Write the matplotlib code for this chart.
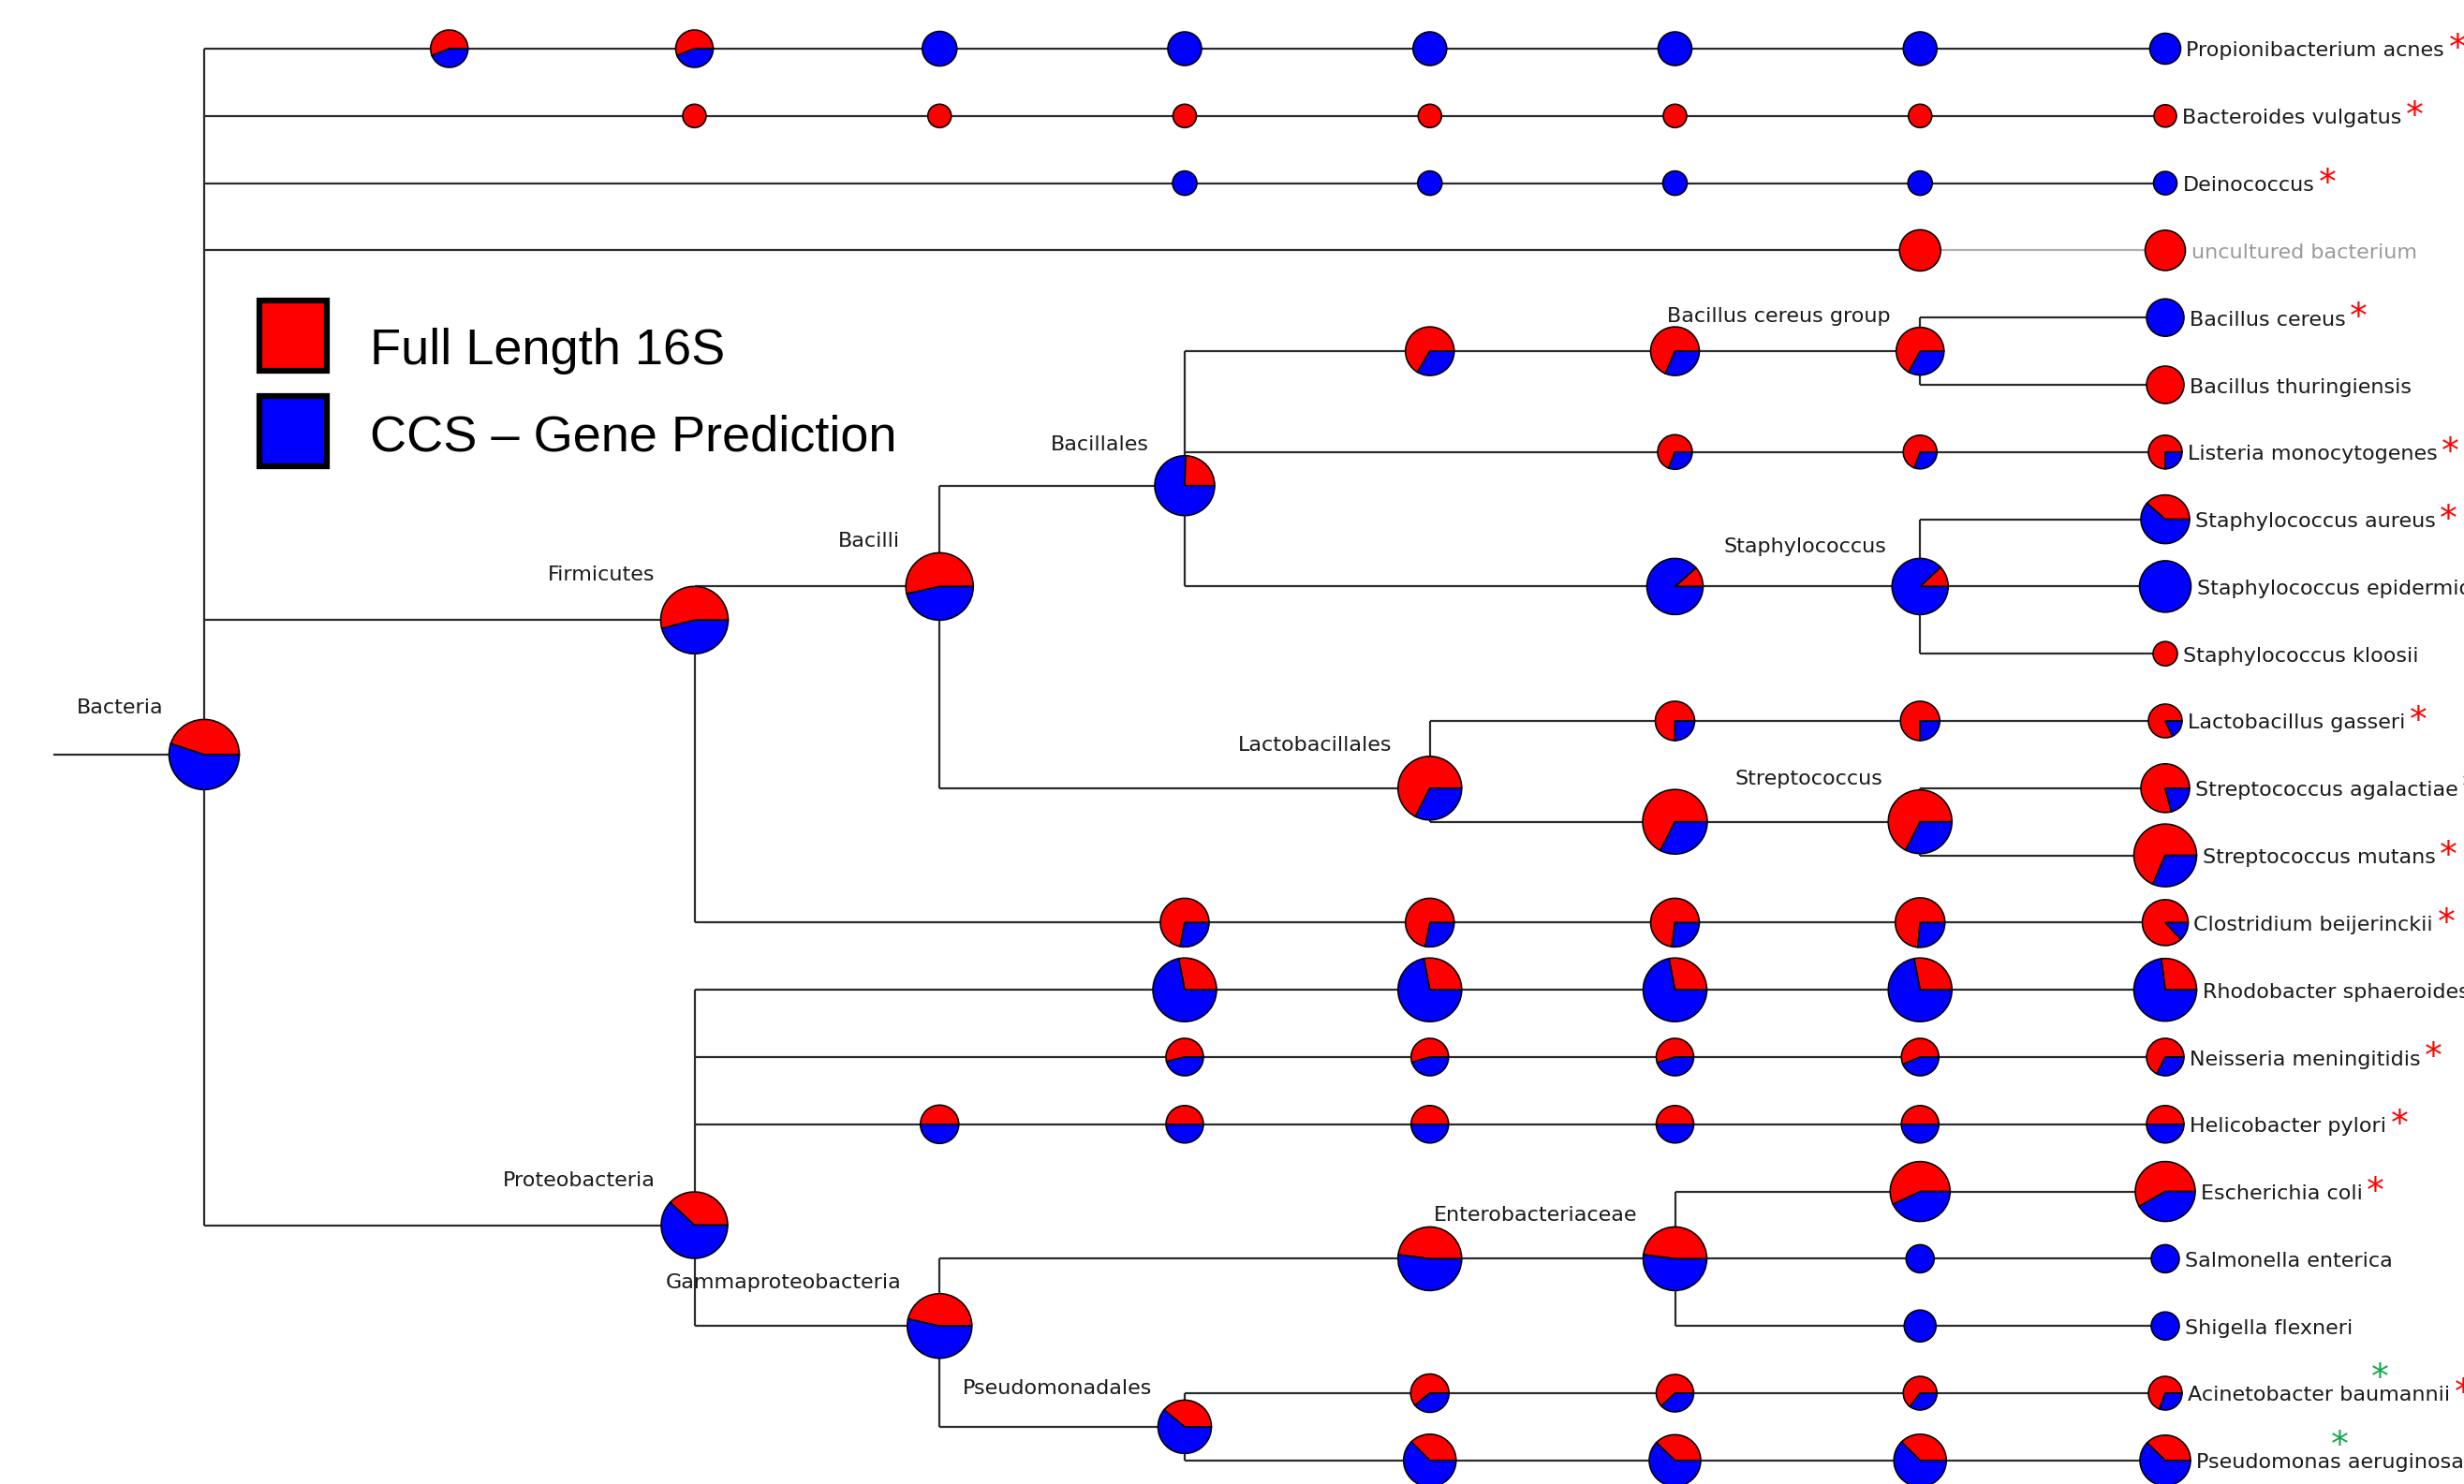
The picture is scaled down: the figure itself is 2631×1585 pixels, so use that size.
import matplotlib
matplotlib.use("Agg")
import matplotlib.pyplot as plt
from matplotlib.patches import Wedge, Circle, Rectangle

# ---------------- data ----------------
# internal taxa: name, parent, rank column, pies along the branch (rank, abundance, red fraction)
node_names = ["Bacteria", "Firmicutes", "Proteobacteria", "Bacilli", "Bacillales",
              "Bacillus cereus group", "Staphylococcus", "Lactobacillales", "Streptococcus",
              "Gammaproteobacteria", "Enterobacteriaceae", "Pseudomonadales"]
node_parent = [None, "Bacteria", "Bacteria", "Firmicutes", "Bacilli", "Bacillales", "Bacillales",
               "Bacilli", "Lactobacillales", "Proteobacteria", "Gammaproteobacteria",
               "Gammaproteobacteria"]
node_rank = [0, 2, 2, 3, 4, 7, 7, 5, 7, 3, 6, 4]
node_pie_ranks = [[0], [2], [2], [3], [4], [5, 6, 7], [6, 7], [5], [6, 7], [3], [5, 6], [4]]
node_pie_size = [[37.5], [36], [35.5], [36], [32], [26, 26, 25.5], [30, 30], [34],
                 [34.5, 34], [34.5], [34, 34], [28.5]]
node_pie_red = [[0.45], [0.54], [0.38], [0.535], [0.245], [0.665, 0.685, 0.67], [0.115, 0.12],
                [0.675], [0.675, 0.675], [0.465], [0.48, 0.48], [0.39]]

# leaves (species), top to bottom
leaf_names = ["Propionibacterium acnes", "Bacteroides vulgatus", "Deinococcus",
              "uncultured bacterium", "Bacillus cereus", "Bacillus thuringiensis",
              "Listeria monocytogenes", "Staphylococcus aureus", "Staphylococcus epidermidis",
              "Staphylococcus kloosii", "Lactobacillus gasseri", "Streptococcus agalactiae",
              "Streptococcus mutans", "Clostridium beijerinckii", "Rhodobacter sphaeroides",
              "Neisseria meningitidis", "Helicobacter pylori", "Escherichia coli",
              "Salmonella enterica", "Shigella flexneri", "Acinetobacter baumannii",
              "Pseudomonas aeruginosa"]
leaf_parent = ["Bacteria", "Bacteria", "Bacteria", "Bacteria", "Bacillus cereus group",
               "Bacillus cereus group", "Bacillales", "Staphylococcus", "Staphylococcus",
               "Staphylococcus", "Lactobacillales", "Streptococcus", "Streptococcus",
               "Firmicutes", "Proteobacteria", "Proteobacteria", "Proteobacteria",
               "Enterobacteriaceae", "Enterobacteriaceae", "Enterobacteriaceae",
               "Pseudomonadales", "Pseudomonadales"]
leaf_pie_ranks = [[1, 2, 3, 4, 5, 6, 7, 8], [2, 3, 4, 5, 6, 7, 8], [4, 5, 6, 7, 8], [7, 8],
                  [8], [8], [6, 7, 8], [8], [8], [8], [6, 7, 8], [8], [8],
                  [4, 5, 6, 7, 8], [4, 5, 6, 7, 8], [4, 5, 6, 7, 8], [3, 4, 5, 6, 7, 8],
                  [7, 8], [7, 8], [7, 8], [5, 6, 7, 8], [5, 6, 7, 8]]
leaf_pie_size = [[20, 20, 18.5, 18, 18, 18, 18, 16.5], [12.5, 12.5, 12.5, 12.5, 12.5, 12.5, 12],
                 [13, 13, 13, 13, 12.5], [22, 21.5], [20], [20], [18.5, 18, 18], [26], [27.5],
                 [13], [21, 21, 18], [26], [33.5], [26, 26, 26, 26.5, 24.5],
                 [34, 34, 34, 34, 33.5], [20, 20, 20, 20, 20], [20.5, 20, 20, 20, 20, 20],
                 [32, 32], [15, 15], [17, 15], [20.5, 20, 18, 18], [28, 27.5, 28, 27]]
leaf_pie_red = [[0.56, 0.56, 0, 0, 0, 0, 0, 0], [1, 1, 1, 1, 1, 1, 1], [0, 0, 0, 0, 0], [1, 1],
                [0], [1], [0.69, 0.695, 0.75], [0.385], [0], [1], [0.75, 0.75, 0.82], [0.79],
                [0.685], [0.72, 0.72, 0.73, 0.735, 0.87], [0.28, 0.28, 0.28, 0.28, 0.27],
                [0.537, 0.545, 0.55, 0.563, 0.676], [0.5, 0.5, 0.5, 0.5, 0.5, 0.5],
                [0.57, 0.583], [0, 0], [0, 0], [0.608, 0.62, 0.645, 0.694],
                [0.375, 0.378, 0.375, 0.378]]
faded_leaves = ["uncultured bacterium"]
red_star_leaves = ["Propionibacterium acnes", "Bacteroides vulgatus", "Deinococcus",
                   "Bacillus cereus", "Listeria monocytogenes", "Staphylococcus aureus",
                   "Lactobacillus gasseri", "Streptococcus agalactiae", "Streptococcus mutans",
                   "Clostridium beijerinckii", "Neisseria meningitidis", "Helicobacter pylori",
                   "Escherichia coli", "Acinetobacter baumannii"]
green_star_leaves = ["Acinetobacter baumannii", "Pseudomonas aeruginosa"]
legend_labels = ["Full Length 16S", "CCS \u2013 Gene Prediction"]

# ---------------- layout / style ----------------
W, H = 2631, 1585
X0, DX = 218, 261.75
Y0, DY = 52, 71.8
RED, BLUE = "#ff0000", "#0000ff"
LINE_C = "#2b2b2b"
LINE_LW = 2.2 * 0.72
PIE_LW = 1.6 * 0.72
FS = 16
green_star_dx = {"Acinetobacter baumannii": 205, "Pseudomonas aeruginosa": 153}

fig = plt.figure(figsize=(W / 100, H / 100), dpi=100)
ax = fig.add_axes([0, 0, 1, 1])
ax.set_xlim(0, W)
ax.set_ylim(H, 0)
ax.axis("off")


def xcol(c):
    return X0 + DX * c


# geometry
ypos = {}
for i, n in enumerate(leaf_names):
    ypos[n] = Y0 + DY * i
parent_of = dict(zip(node_names, node_parent))
parent_of.update(dict(zip(leaf_names, leaf_parent)))
rank_of = dict(zip(node_names, node_rank))
rank_of.update({n: 8 for n in leaf_names})
children = {n: [] for n in node_names}
for n, p in parent_of.items():
    if p is not None:
        children[p].append(n)


def leaves_under(n):
    if n in leaf_names:
        return [n]
    out = []
    for c in children[n]:
        out += leaves_under(c)
    return out


for n in node_names:
    ys = [ypos[l] for l in leaves_under(n)]
    ypos[n] = (min(ys) + max(ys)) / 2

# lines
for n, p in parent_of.items():
    if p is None:
        continue
    x1, x2, y = xcol(rank_of[p]), xcol(rank_of[n]), ypos[n]
    if n in faded_leaves:
        xm = xcol(leaf_pie_ranks[leaf_names.index(n)][-2])
        ax.plot([x1, xm], [y, y], color=LINE_C, lw=LINE_LW, zorder=1, solid_capstyle="butt")
        ax.plot([xm, x2], [y, y], color="#b0b0b0", lw=LINE_LW, zorder=1, solid_capstyle="butt")
    else:
        ax.plot([x1, x2], [y, y], color=LINE_C, lw=LINE_LW, zorder=1, solid_capstyle="butt")
for n in node_names:
    cy = [ypos[c] for c in children[n]]
    x = xcol(rank_of[n])
    ax.plot([x, x], [min(cy), max(cy)], color=LINE_C, lw=LINE_LW, zorder=1, solid_capstyle="butt")
root = node_names[0]
ax.plot([58, xcol(0)], [ypos[root], ypos[root]], color=LINE_C, lw=LINE_LW, zorder=1)


def draw_pie(cx, cy, r, f):
    if f >= 0.999:
        ax.add_patch(Circle((cx, cy), r, fc=RED, ec="black", lw=PIE_LW, zorder=3))
    elif f <= 0.001:
        ax.add_patch(Circle((cx, cy), r, fc=BLUE, ec="black", lw=PIE_LW, zorder=3))
    else:
        a = 360 * f
        ax.add_patch(Wedge((cx, cy), r, -a, 0, fc=RED, ec="black", lw=PIE_LW, zorder=3))
        ax.add_patch(Wedge((cx, cy), r, 0, 360 - a, fc=BLUE, ec="black", lw=PIE_LW, zorder=3))


# internal nodes
for n, rks, szs, reds in zip(node_names, node_pie_ranks, node_pie_size, node_pie_red):
    for rk, s, f in zip(rks, szs, reds):
        draw_pie(xcol(rk), ypos[n], s, f)
    r = szs[-1]
    cx, cy = xcol(rank_of[n]), ypos[n]
    ax.text(cx - r - 6, cy - r - 6, n, ha="right", va="baseline", fontsize=FS,
            color="#1a1a1a", family="DejaVu Sans", zorder=4)

# leaves
for n, rks, szs, reds in zip(leaf_names, leaf_pie_ranks, leaf_pie_size, leaf_pie_red):
    for rk, s, f in zip(rks, szs, reds):
        draw_pie(xcol(rk), ypos[n], s, f)
    r = szs[-1]
    cx, cy = xcol(8), ypos[n]
    col = "#9a9a9a" if n in faded_leaves else "#1a1a1a"
    t = ax.text(cx + r + 6, cy + 8.5, n, ha="left", va="baseline", fontsize=FS,
                color=col, family="DejaVu Sans", zorder=4)
    if n in red_star_leaves:
        ax.annotate("*", xy=(1, 0), xycoords=t, xytext=(10, 1), textcoords="offset points",
                    ha="center", va="baseline", fontsize=27, color="#ff0000",
                    family="DejaVu Sans", zorder=4)
    if n in green_star_leaves:
        ax.text(cx + r + 6 + green_star_dx[n], cy - 27 + 22, "*", ha="center", va="baseline",
                fontsize=27, color="#12a84a", family="DejaVu Sans", zorder=4)

# legend
for i, (lab, c) in enumerate(zip(legend_labels, [RED, BLUE])):
    y = 321 + 102 * i
    ax.add_patch(Rectangle((277, y), 72, 75, fc=c, ec="black", lw=4.5, zorder=5))
    ax.text(395, 389 + 92 * i, lab, ha="left", va="baseline", fontsize=39,
            family="Liberation Sans", color="black", zorder=5)

fig.savefig("out.png", dpi=100)
